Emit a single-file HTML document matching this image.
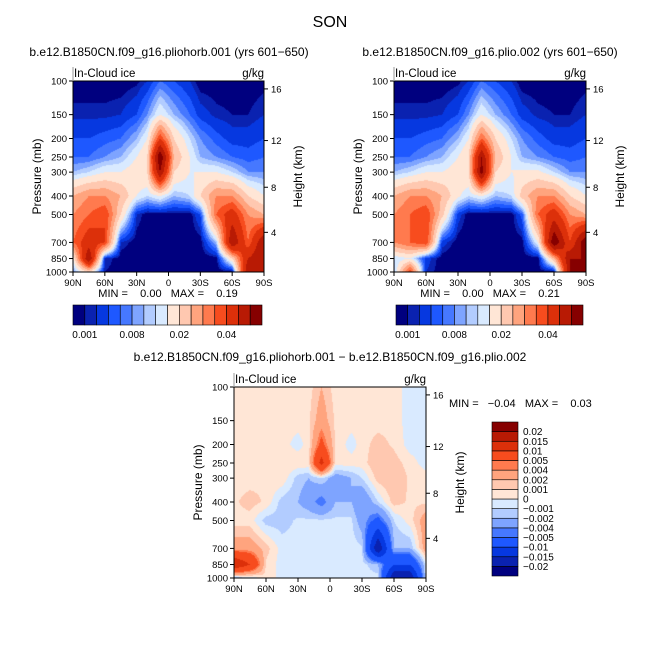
<!DOCTYPE html>
<html><head><meta charset="utf-8"><style>
body{margin:0;background:#fff;width:659px;height:660px;overflow:hidden;position:relative;font-family:"Liberation Sans",sans-serif}
canvas{position:absolute}
svg{position:absolute;left:0;top:0}
text{font-family:"Liberation Sans",sans-serif;fill:#000;white-space:pre}
</style></head><body>
<canvas id="c1" width="191" height="191" style="left:73px;top:81px"></canvas>
<canvas id="c2" width="192" height="191" style="left:394px;top:81px"></canvas>
<canvas id="c3" width="192" height="191" style="left:234px;top:387px"></canvas>
<svg id="s" width="659" height="660"></svg>
<script>
const lats=[90,75,60,45,30,20,8,-5,-20,-30,-45,-60,-75,-90];
const pres=[100,150,200,250,300,400,500,700,850,1000];
const absLevels=[0.001,0.002,0.004,0.006,0.008,0.01,0.012,0.015,0.02,0.025,0.03,0.035,0.04,0.05,0.06];
const absColors=["#00007f","#0a22b0","#0638e0","#1e58ff","#4678ff","#7ea4ff","#b2ccff","#d9eaff","#ffe6d6","#ffc8b0","#ffa47e","#ff7a4e","#f74c1e","#dc300a","#b81a04","#860000"];
const absLabels=["0.001","0.008","0.02","0.04"];
const absLabelIdx=[1,5,9,13];
const diffLevels=[-0.02,-0.015,-0.01,-0.005,-0.004,-0.002,-0.001,0,0.001,0.002,0.004,0.005,0.01,0.015,0.02];
const diffColors=["#00007f","#0a22b0","#0638e0","#1e58ff","#4678ff","#7ea4ff","#b2ccff","#d9eaff","#ffe6d6","#ffc8b0","#ffa47e","#ff7a4e","#f74c1e","#dc300a","#b81a04","#860000"];
const diffLabels=["-0.02","-0.015","-0.01","-0.005","-0.004","-0.002","-0.001","0","0.001","0.002","0.004","0.005","0.01","0.015","0.02"];
// each row = one latitude column (lats), values at pres levels
const field1=[
[0,.0015,.004,.006,.01,.025,.03,.035,.015,.008],
[0,.0015,.004,.006,.012,.03,.035,.045,.06,.02],
[0,.0015,.005,.008,.015,.03,.04,.04,.002,.001],
[0,.002,.006,.01,.015,.025,.02,.002,0,0],
[.0005,.004,.01,.015,.018,.015,.002,0,0,0],
[.002,.008,.015,.02,.02,.012,0,0,0,0],
[.006,.015,.04,.07,.06,.015,0,0,0,0],
[.004,.01,.02,.025,.02,.01,0,0,0,0],
[.002,.006,.012,.015,.015,.012,0,0,0,0],
[0,.003,.008,.01,.015,.02,.004,0,0,0],
[0,.0015,.005,.008,.015,.03,.035,.01,0,0],
[0,.001,.003,.006,.012,.03,.045,.06,.02,0],
[0,.001,.003,.005,.008,.02,.03,.035,.05,.06],
[.0005,.002,.004,.006,.008,.015,.025,.06,.06,.06]];
const field2=[
[0,.0015,.004,.006,.01,.025,.03,.03,.012,.01],
[0,.0015,.004,.006,.012,.03,.035,.035,.015,.04],
[0,.0015,.005,.008,.015,.03,.04,.04,.003,.002],
[0,.002,.006,.01,.015,.025,.022,.003,0,0],
[.0005,.004,.01,.015,.018,.016,.003,0,0,0],
[.002,.008,.015,.02,.02,.012,0,0,0,0],
[.006,.015,.035,.06,.065,.015,0,0,0,0],
[.004,.01,.02,.025,.02,.01,0,0,0,0],
[.002,.006,.012,.015,.015,.012,0,0,0,0],
[0,.003,.008,.01,.016,.022,.005,0,0,0],
[0,.0015,.005,.008,.016,.03,.035,.015,0,0],
[0,.001,.003,.006,.012,.03,.045,.07,.025,0],
[0,.001,.003,.005,.008,.02,.03,.04,.06,.06],
[.0005,.002,.004,.006,.008,.015,.025,.07,.06,.06]];
const fieldDiff=[
[.0005,.0005,.0005,.0005,.0005,.0008,.0005,.003,.015,-.002],
[.0005,.0005,.0005,.0005,.0005,.0015,.0005,.003,.01,-.001],
[.0005,.0005,.0005,.0008,.0008,.0008,-.0015,.0015,.0008,.0008],
[.0005,.0005,.0005,.0008,.0008,-.0015,-.0015,-.0005,-.0005,-.0005],
[.0005,.0005,-.0005,.0008,-.0015,-.002,-.0008,-.0005,-.0005,-.0005],
[.0005,.0008,.0005,.0008,-.002,-.003,-.0008,-.0005,-.0005,-.0005],
[.002,.003,.006,.012,-.001,-.005,-.0008,-.0005,-.0005,-.0005],
[.0005,.0008,.0008,.0005,-.003,-.002,-.0008,-.0005,-.0005,-.0005],
[.0005,.0005,-.0005,.0005,-.002,-.002,-.0008,-.0005,-.0005,-.0005],
[.0005,.0005,.0005,.0005,-.001,-.004,-.003,-.0008,-.0005,-.0005],
[.0005,.0005,.0015,.002,.0015,-.001,-.006,-.02,-.002,-.0005],
[.0005,.0005,.0008,.0015,.002,.0015,-.001,-.002,-.01,-.02],
[-.0005,-.0005,-.0005,.0005,.0008,.0008,.0005,-.002,-.01,-.02],
[-.0005,-.0005,-.0005,-.0005,.0005,.0008,.003,.003,-.0005,-.0005]];
const pTicks=[100,150,200,250,300,400,500,700,850,1000];
const zTicks=[4,8,12,16];
const zTickP=[620,360,205,110];
const xTickLabels=["90N","60N","30N","0","30S","60S","90S"];
const xTickLats=[90,60,30,0,-30,-60,-90];

function hex(c){return [1,3,5].map(i=>parseInt(c.substr(i,2),16));}
function sample(f,lat,p){
  let i=0; while(i<lats.length-2 && lats[i+1]>lat) i++;
  let tx=(lats[i]-lat)/(lats[i]-lats[i+1]); tx=Math.max(0,Math.min(1,tx));
  let lp=Math.log(p); let j=0;
  while(j<pres.length-2 && Math.log(pres[j+1])<lp) j++;
  let ty=(lp-Math.log(pres[j]))/(Math.log(pres[j+1])-Math.log(pres[j]));
  ty=Math.max(0,Math.min(1,ty));
  let a=f[i][j]*(1-tx)+f[i+1][j]*tx, b=f[i][j+1]*(1-tx)+f[i+1][j+1]*tx;
  return a*(1-ty)+b*ty;
}
function draw(id,f,levels,colors){
  const cv=document.getElementById(id),ctx=cv.getContext('2d'),W=cv.width,H=cv.height;
  const img=ctx.createImageData(W,H); const rgb=colors.map(hex);
  for(let y=0;y<H;y++){const p=Math.exp(Math.log(100)+(y+0.5)/H*Math.log(10));
    for(let x=0;x<W;x++){const lat=90-(x+0.5)/W*180; const v=sample(f,lat,p);
      let k=0; while(k<levels.length&&v>=levels[k]) k++;
      const c=rgb[k],o=(y*W+x)*4; img.data[o]=c[0];img.data[o+1]=c[1];img.data[o+2]=c[2];img.data[o+3]=255;}}
  ctx.putImageData(img,0,0);
}
draw('c1',field1,absLevels,absColors);
draw('c2',field2,absLevels,absColors);
draw('c3',fieldDiff,diffLevels,diffColors);

const S=document.getElementById('s'),NS='http://www.w3.org/2000/svg';
function el(t,a,txt){const e=document.createElementNS(NS,t);for(const k in a)e.setAttribute(k,a[k]);if(txt!==undefined)e.textContent=txt;S.appendChild(e);return e;}
function axes(x0,y0,w,h,tag){
  const g=el('rect',{x:x0,y:y0,width:w,height:h,fill:'none',stroke:'#000','stroke-width':1});
  
  const py=p=>y0+Math.log10(p/100)*h, lx=l=>x0+(90-l)/180*w;
  pTicks.forEach(p=>{const y=py(p);el('line',{x1:x0-4,x2:x0,y1:y,y2:y,stroke:'#000'});
    const t=el('text',{x:x0-6,y:y+3.5,'font-size':9.5,'text-anchor':'end'},p);});
  xTickLats.forEach((l,i)=>{const x=lx(l);el('line',{x1:x,x2:x,y1:y0+h,y2:y0+h+4,stroke:'#000'});
    const t=el('text',{x:x,y:y0+h+14,'font-size':9.5,'text-anchor':'middle'},xTickLabels[i]);});
  zTicks.forEach((z,i)=>{const y=py(zTickP[i]);el('line',{x1:x0+w,x2:x0+w+4,y1:y,y2:y,stroke:'#000'});
    const t=el('text',{x:x0+w+7,y:y+3.5,'font-size':9.5},z);});
  let t=el('text',{transform:`translate(${x0-32},${y0+h/2}) rotate(-90)`,'font-size':12,'text-anchor':'middle',fill:'#333'},'Pressure (mb)');
  t=el('text',{transform:`translate(${x0+w+38},${y0+h/2}) rotate(-90)`,'font-size':12,'text-anchor':'middle',fill:'#555'},'Height (km)');
  t=el('text',{x:x0+1,y:y0-4,'font-size':11.5,fill:'#333'},'In-Cloud ice');
  el('line',{x1:x0,x2:x0,y1:y0-14,y2:y0,stroke:'#999'});
  t=el('text',{x:x0+w,y:y0-4,'font-size':11.5,'text-anchor':'end'},'g/kg');
}
axes(73,81,191,191,'left');
axes(394,81,192,191,'right');
axes(234,387,192,191,'diff');
function hbar(x0,y0,w,h,tag){const bw=w/16;
  absColors.forEach((c,i)=>{const r=el('rect',{x:x0+i*bw,y:y0,width:bw,height:h,fill:c,stroke:'#000','stroke-width':0.6});});
  absLabels.forEach((l,i)=>{const t=el('text',{x:x0+absLabelIdx[i]*bw,y:y0+h+13,'font-size':10,'text-anchor':'middle'},l);});
}
hbar(73,305,189,20,'left');hbar(396,305,187,20,'right');
(function(){const x0=492,y0=422,w=26,h=154,bh=h/16;
  diffColors.forEach((c,i)=>{const r=el('rect',{x:x0,y:y0+h-(i+1)*bh,width:w,height:bh,fill:c,stroke:'#000','stroke-width':0.6});});
  diffLabels.forEach((l,i)=>{const t=el('text',{x:x0+w+5,y:y0+h-(i+1)*bh+3.5,'font-size':10},l.replace('-','\u2212'));});
})();
function txt(x,y,s,fs,name,anchor){const t=el('text',{x:x,y:y,'font-size':fs,'text-anchor':anchor||'middle'},s);}
txt(330,27,'SON',16,'figure-title');
txt(169,56,'b.e12.B1850CN.f09_g16.pliohorb.001 (yrs 601\u2212650)',12,'left-panel-title');
txt(490,56,'b.e12.B1850CN.f09_g16.plio.002 (yrs 601\u2212650)',12,'right-panel-title');
txt(330,361,'b.e12.B1850CN.f09_g16.pliohorb.001 \u2212 b.e12.B1850CN.f09_g16.plio.002',12,'diff-panel-title');
txt(168,297,'MIN =    0.00   MAX =    0.19',11,'left-min-max');
txt(490,297,'MIN =    0.00   MAX =    0.21',11,'right-min-max');
txt(449,407,'MIN =   \u22120.04   MAX =    0.03',11,'diff-min-max','start');
</script>
</body></html>
